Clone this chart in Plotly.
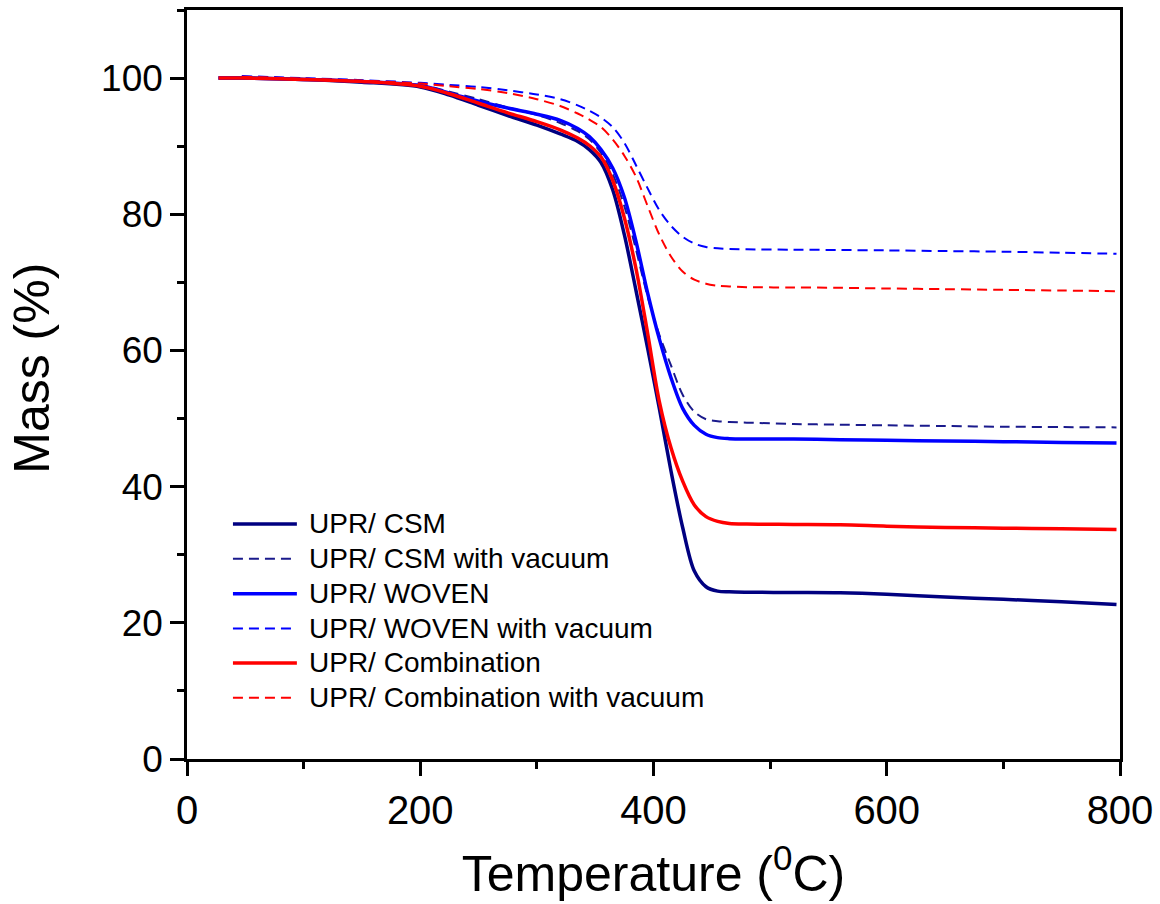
import plotly.graph_objects as go

# Temperature grids (deg C)
temp_solid = [27, 47, 100, 150, 200, 225, 250, 275, 300, 320, 335, 345, 355, 365, 375, 385,
              395, 405, 415, 425, 435, 445, 455, 465, 480, 520, 560, 600, 650, 700, 750, 797]
temp_vacuum = [47, 100, 150, 200, 225, 250, 275, 300, 320, 335, 345, 355, 365, 375, 385,
               395, 405, 415, 425, 435, 445, 455, 465, 480, 520, 560, 600, 650, 700, 750, 797]

# Mass (%) series
csm = [100.0, 100.0, 99.8, 99.4, 98.7, 97.5, 96.0, 94.5, 93.1, 91.8, 90.7, 89.5, 87.6, 83.6,
       77.0, 68.8, 60.3, 51.5, 42.3, 34.0, 27.6, 25.3, 24.65, 24.55, 24.5, 24.45, 24.4, 24.2,
       23.8, 23.45, 23.1, 22.7]
csm_vac = [100.2, 99.9, 99.6, 99.0, 98.0, 96.9, 95.7, 94.6, 93.4, 92.2, 91.0, 89.0, 85.9,
           81.2, 74.8, 67.9, 62.3, 57.8, 53.5, 51.0, 49.9, 49.6, 49.5, 49.4, 49.2, 49.1,
           49.0, 48.9, 48.8, 48.75, 48.7]
woven = [100.0, 100.0, 99.8, 99.5, 98.9, 97.8, 96.6, 95.6, 94.7, 93.8, 92.6, 91.4, 89.5, 86.8,
         82.5, 76.0, 68.4, 61.7, 56.0, 51.5, 49.0, 47.7, 47.2, 47.05, 47.0, 47.0, 46.9, 46.8,
         46.7, 46.6, 46.5, 46.4]
woven_vac = [100.3, 100.0, 99.7, 99.3, 99.0, 98.7, 98.2, 97.6, 96.9, 96.0, 95.2, 94.2, 92.8,
             90.5, 87.2, 83.8, 80.6, 78.3, 76.7, 75.7, 75.2, 75.0, 74.9, 74.85, 74.8, 74.75,
             74.7, 74.6, 74.5, 74.35, 74.2]
combination = [100.0, 100.0, 99.8, 99.5, 98.8, 97.7, 96.3, 94.9, 93.6, 92.4, 91.2, 90.1, 88.4,
               85.0, 79.5, 72.0, 62.5, 52.5, 45.7, 40.8, 37.3, 35.6, 34.9, 34.6, 34.5, 34.45,
               34.4, 34.2, 34.0, 33.9, 33.8, 33.7]
combination_vac = [100.2, 99.9, 99.6, 99.2, 98.8, 98.4, 97.8, 96.9, 95.9, 94.8, 93.9, 92.8,
                   91.0, 88.6, 85.5, 81.2, 77.0, 73.8, 71.6, 70.4, 69.8, 69.5, 69.4, 69.3,
                   69.25, 69.2, 69.1, 69.0, 68.9, 68.8, 68.7]

series = [
    ("UPR/ CSM", temp_solid, csm, "#000080", "solid", 3.5),
    ("UPR/ CSM with vacuum", temp_vacuum, csm_vac, "#1a1a8c", "10px,6px", 2),
    ("UPR/ WOVEN", temp_solid, woven, "#0000FF", "solid", 3.5),
    ("UPR/ WOVEN with vacuum", temp_vacuum, woven_vac, "#0000FF", "10px,6px", 2),
    ("UPR/ Combination", temp_solid, combination, "#FF0000", "solid", 3.5),
    ("UPR/ Combination with vacuum", temp_vacuum, combination_vac, "#FF0000", "10px,6px", 2),
]

FONT = "Arial, 'Liberation Sans', sans-serif"
W, H = 1160, 904
ML, MR, MT, MB = 187, 39, 7, 145
PW, PH = W - ML - MR, H - MT - MB


def px_to_paper_x(px):
    return (px - ML) / PW


def px_to_paper_y(py):
    return (H - MB - py) / PH


fig = go.Figure()
for name, t, m, color, dash, width in series:
    fig.add_trace(go.Scatter(
        x=t, y=m, name=name, mode="lines", showlegend=False,
        line=dict(color=color, dash=dash, width=width, shape="spline", smoothing=0.9),
    ))

# Legend drawn as line samples + real text labels
legend_rows_px = [523, 558, 593, 628, 662.5, 697.5]
shapes, annotations = [], []
for (name, t, m, color, dash, width), ry in zip(series, legend_rows_px):
    yp = px_to_paper_y(ry)
    shapes.append(dict(type="line", xref="paper", yref="paper",
                       x0=px_to_paper_x(233), x1=px_to_paper_x(297), y0=yp, y1=yp,
                       line=dict(color=color, dash=dash, width=width)))
    annotations.append(dict(text=name, xref="paper", yref="paper",
                            x=px_to_paper_x(307), y=yp, xanchor="left", yanchor="middle",
                            showarrow=False, font=dict(family=FONT, size=28, color="black")))

annotations.append(dict(text="Mass (%)", xref="paper", yref="paper",
                        x=px_to_paper_x(31), y=px_to_paper_y(367),
                        xanchor="center", yanchor="middle", textangle=-90, showarrow=False,
                        font=dict(family=FONT, size=50, color="black")))

axis_common = dict(
    showline=True, linecolor="black", linewidth=2.5, mirror=True,
    ticks="outside", ticklen=14, tickwidth=2.5, tickcolor="black",
    showgrid=False, zeroline=False,
)

fig.update_layout(
    width=W, height=H,
    margin=dict(l=ML, r=MR, t=MT, b=MB),
    paper_bgcolor="white", plot_bgcolor="white",
    font=dict(family=FONT, color="black"),
    showlegend=False,
    shapes=shapes,
    annotations=annotations,
    xaxis=dict(
        range=[0, 800], dtick=200, tick0=0,
        tickfont=dict(family=FONT, size=40),
        minor=dict(dtick=100, ticklen=7, tickwidth=2.5, tickcolor="black", ticks="outside"),
        title=dict(text="Temperature (<sup>0</sup>C)", font=dict(family=FONT, size=50), standoff=26),
        **axis_common,
    ),
    yaxis=dict(
        range=[0, 110], dtick=20, tick0=0,
        tickfont=dict(family=FONT, size=37),
        minor=dict(dtick=10, ticklen=7, tickwidth=2.5, tickcolor="black", ticks="outside"),
        **axis_common,
    ),
)

fig.write_html("out.html")
